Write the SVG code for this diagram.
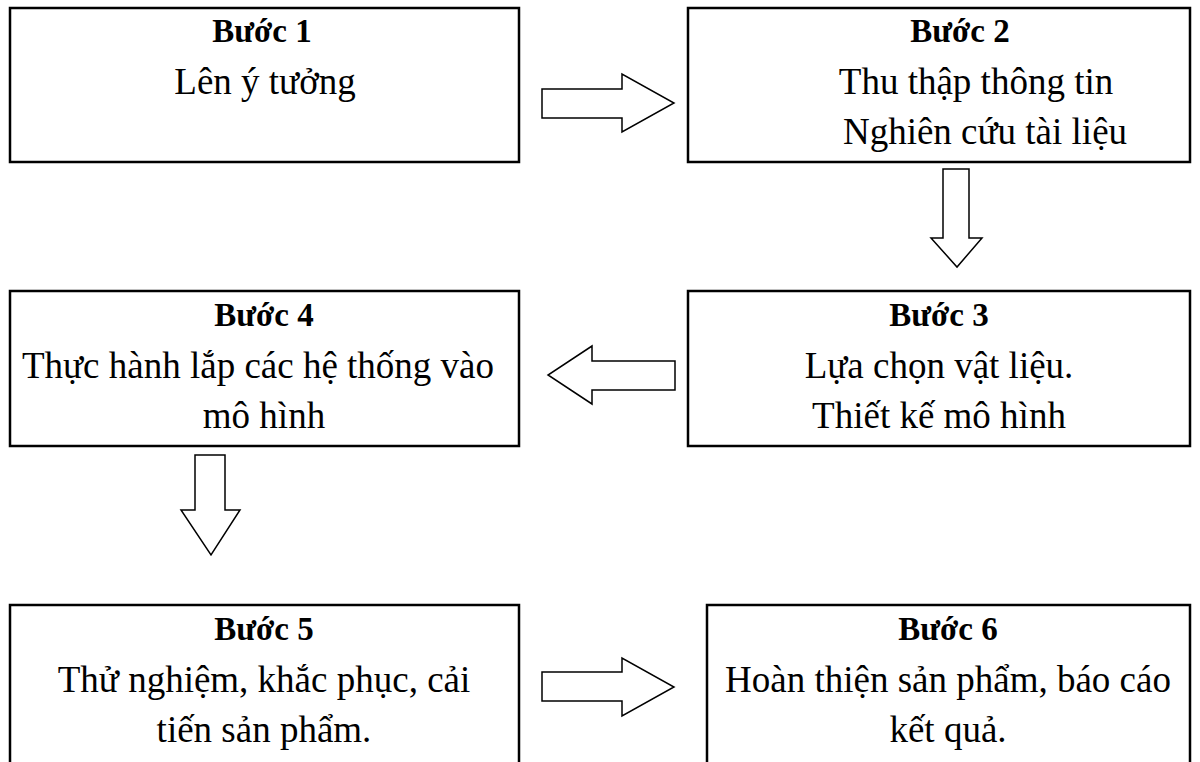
<svg xmlns="http://www.w3.org/2000/svg" width="1200" height="762" viewBox="0 0 1200 762">
<style>
.box{fill:#fff;stroke:#000;stroke-width:2.5}
.arr{fill:#fff;stroke:#000;stroke-width:1.5;stroke-linejoin:miter}
text{font-family:"Liberation Serif","Times New Roman",serif;font-size:37px;fill:#000;text-anchor:middle}
.b{font-weight:bold;font-size:33px}
</style>
<rect width="1200" height="762" fill="#fff"/>
<g id="connectors">
<polygon class="arr" points="542,89 622,89 622,74 674,103 622,132 622,118 542,118"/>
<polygon class="arr" points="943,169 969,169 969,238 982,238 957,267 931,238 943,238"/>
<polygon class="arr" points="675,361 592,361 592,346 548,375 592,404 592,390 675,390"/>
<polygon class="arr" points="195,455 225,455 225,510 240,510 211,555 181,510 195,510"/>
<polygon class="arr" points="542,672 622,672 622,658 674,687 622,716 622,701 542,701"/>
</g>
<g id="step1">
<rect class="box" x="10" y="8" width="509" height="154"/>
<text class="b" x="262" y="42">Bước 1</text>
<text x="265" y="94">Lên ý tưởng</text>
</g>
<g id="step2">
<rect class="box" x="688" y="8" width="502" height="154"/>
<text class="b" x="960" y="42">Bước 2</text>
<text x="976" y="94">Thu thập thông tin</text>
<text x="985" y="144">Nghiên cứu tài liệu</text>
</g>
<g id="step3">
<rect class="box" x="688" y="291" width="502" height="155"/>
<text class="b" x="939" y="326">Bước 3</text>
<text x="939" y="378">Lựa chọn vật liệu.</text>
<text x="939" y="428">Thiết kế mô hình</text>
</g>
<g id="step4">
<rect class="box" x="10" y="291" width="509" height="155"/>
<text class="b" x="264" y="326">Bước 4</text>
<text x="258" y="378">Thực hành lắp các hệ thống vào</text>
<text x="264" y="428">mô hình</text>
</g>
<g id="step5">
<rect class="box" x="10" y="605" width="509" height="170"/>
<text class="b" x="264" y="640">Bước 5</text>
<text x="264" y="692">Thử nghiệm, khắc phục, cải</text>
<text x="264" y="742">tiến sản phẩm.</text>
</g>
<g id="step6">
<rect class="box" x="707" y="605" width="483" height="170"/>
<text class="b" x="948" y="640">Bước 6</text>
<text x="948" y="692">Hoàn thiện sản phẩm, báo cáo</text>
<text x="948" y="742">kết quả.</text>
</g>
</svg>
